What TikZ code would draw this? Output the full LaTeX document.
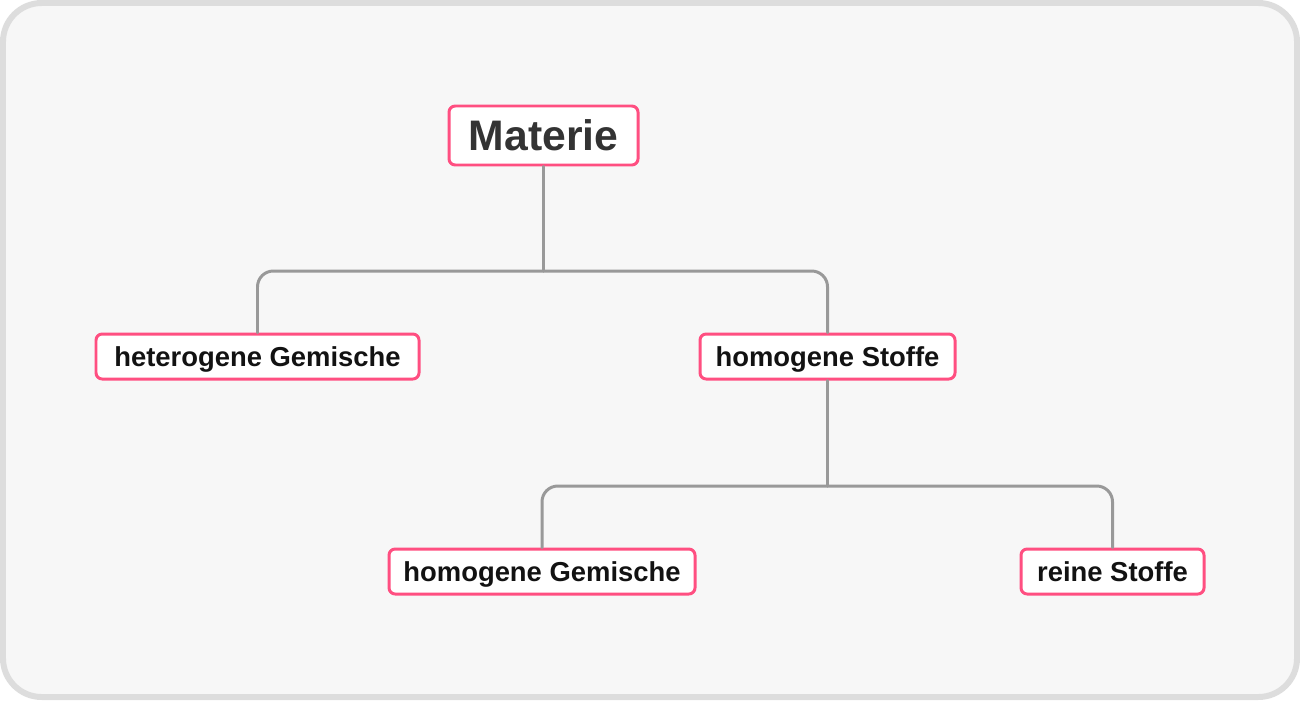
\documentclass[tikz,border=0pt]{standalone}
\usepackage{fontspec}
\setmainfont{Liberation Sans}
\definecolor{rahmen}{HTML}{DDDDDD}
\definecolor{grund}{HTML}{F7F7F7}
\definecolor{pink}{HTML}{FF4F81}
\definecolor{linie}{HTML}{999999}
\begin{document}
\begin{tikzpicture}[x=0.02cm, y=-0.02cm, line cap=round, line join=round, font=\bfseries]
	\tikzset{box/.style={draw=pink, fill=white, line width=1.7pt, rounded corners=3.5pt, inner sep=0pt, text height=14.3pt, text depth=3.1pt, font=\fontsize{15.6}{18}\bfseries, text=black!93},
	link/.style={draw=linie, line width=1.7pt, rounded corners=9pt}}
	\useasboundingbox (0,0) rectangle (1300,700);
	\draw[rahmen, fill=grund, line width=3.4pt, rounded corners=22pt] (3,3) rectangle (1297,697);
	% Knoten
	\node[box, minimum width=189*0.02cm, minimum height=59*0.02cm, text height=22.3pt, text depth=4.9pt, font=\fontsize{24.3}{28}\bfseries, text=black!80] (mat) at (543.5,135.5) {Materie};
	\node[box, minimum width=323*0.02cm, minimum height=45*0.02cm] (het) at (257.5,356.5) {heterogene Gemische};
	\node[box, minimum width=255*0.02cm, minimum height=45*0.02cm] (hst) at (827.5,356.5) {homogene Stoffe};
	\node[box, minimum width=306*0.02cm, minimum height=45*0.02cm] (hge) at (542,571.5) {homogene Gemische};
	\node[box, minimum width=183*0.02cm, minimum height=45*0.02cm] (rst) at (1112.5,571.5) {reine Stoffe};
	% Verbindungen
	\coordinate (j1) at (543.5,271);
	\coordinate (j2) at (827.5,486);
	\draw[link] (mat.south) -- (j1);
	\draw[link] (j1) -| (het.north);
	\draw[link] (j1) -| (hst.north);
	\draw[link] (hst.south) -- (j2);
	\draw[link] (j2) -| (hge.north);
	\draw[link] (j2) -| (rst.north);
\end{tikzpicture}
\end{document}
